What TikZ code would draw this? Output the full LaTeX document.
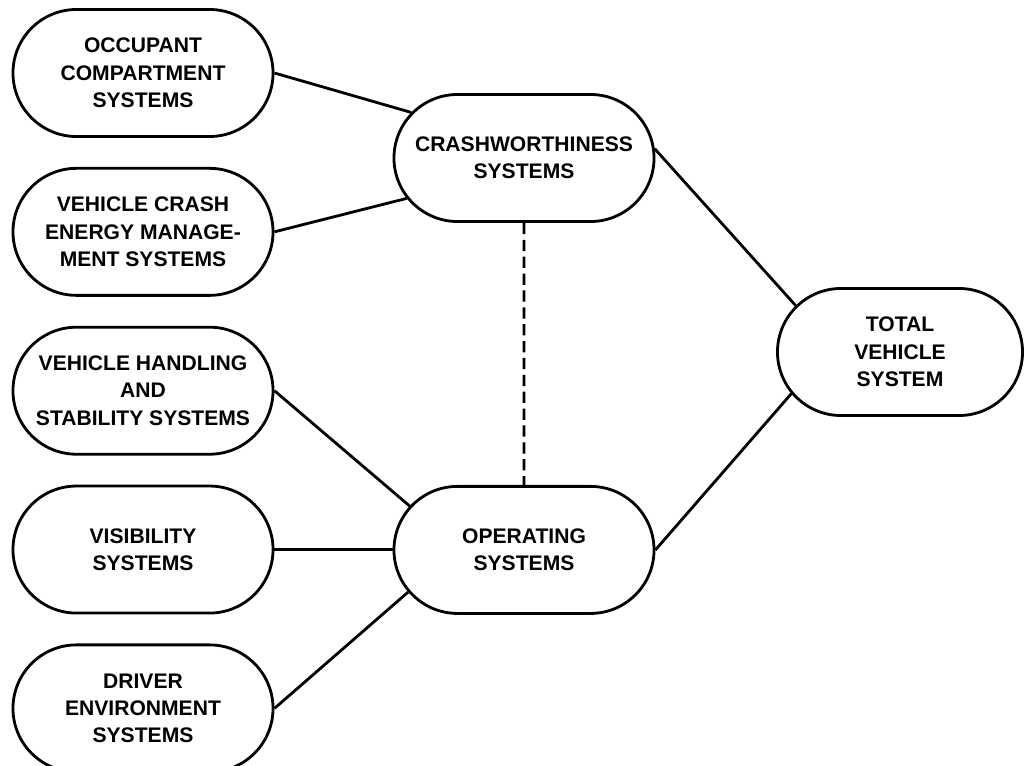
\documentclass[tikz,border=0pt]{standalone}
\usepackage{fontspec}
\setmainfont{Liberation Sans}
\usetikzlibrary{positioning,shapes.misc}

\begin{document}
\begin{tikzpicture}[x=0.025cm,y=-0.025cm,node distance=0.725cm,every node/.append style={align=center},sys/.style={draw, rounded rectangle, line width=2pt, minimum width=4.1cm, minimum height=3.175cm, inner xsep=-1.2cm, inner ysep=0pt, font=\bfseries\fontsize{15}{19.5}\selectfont},link/.style={line width=2pt}]
    \useasboundingbox (0,0) rectangle (1027,766);
    \node [sys] (occ) at (143,73) {OCCUPANT\\COMPARTMENT\\SYSTEMS};
    \node [sys, below=of occ] (veh) {VEHICLE CRASH\\ENERGY MANAGE-\\MENT SYSTEMS};
    \node [sys, below=of veh] (hand) {VEHICLE HANDLING\\AND\\STABILITY SYSTEMS};
    \node [sys, below=of hand] (vis) {VISIBILITY\\SYSTEMS};
    \node [sys, below=of vis] (drv) {DRIVER\\ENVIRONMENT\\SYSTEMS};
    \node [sys] (crash) at (524,158) {CRASHWORTHINESS\\SYSTEMS};
    \node [sys, below=6.55cm of crash] (op) {OPERATING\\SYSTEMS};
    \node [sys, minimum width=3.725cm] (total) at (900,352) {TOTAL\\VEHICLE\\SYSTEM};
    \path[link] (occ.east) edge (crash.158);
    \path[link] (veh.east) edge (crash.199);
    \path[link] (crash.4) edge (total.156);
    \path[link, dash pattern=on 8pt off 4pt] (crash) edge (op);
    \path[link] (hand.east) edge (op.159);
    \path[link] (vis.east) edge (vis.east -| op.west);
    \path[link] (drv.east) edge (op.200);
    \path[link] (op.east) edge (total.201);
\end{tikzpicture}
\end{document}
